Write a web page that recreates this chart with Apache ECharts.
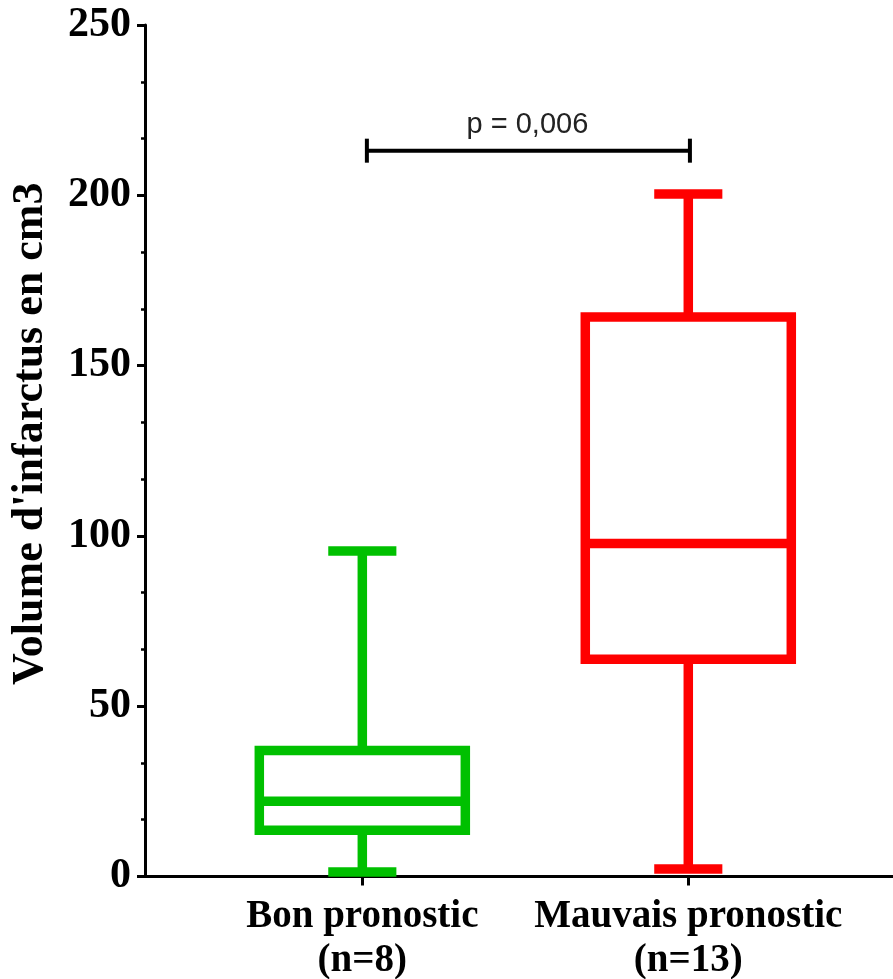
<!DOCTYPE html>
<html>
<head>
<meta charset="utf-8">
<script src="https://cdn.jsdelivr.net/npm/echarts@6/dist/echarts.min.js"></script>
<style>html,body{margin:0;padding:0;background:#fff}#c{width:893px;height:979px}</style>
</head>
<body>
<div id="c"></div>
<script>
// ---- data ----
var categories = ['Bon pronostic\n(n=8)', 'Mauvais pronostic\n(n=13)'];
var groupPos = [1, 2];
// [min, Q1, median, Q3, max]
var bonStats = [1.3, 13.6, 22.1, 37.0, 95.6];
var mauvaisStats = [2.2, 63.8, 97.8, 164.3, 200.4];
var groupColors = ['#00C000', '#FF0000'];
var yTicks = [0, 50, 100, 150, 200, 250];
var pLabel = 'p = 0,006';
var bracketY = 213.1;
var bracketX = [1.014, 2.005];

var allStats = [bonStats, mauvaisStats];
var boxData = allStats.map(function (s, i) { return [groupPos[i]].concat(s).concat([i]); });

var BOX_W = 0.632, CAP_W = 0.209, LW = 9.5;

var chart = echarts.init(document.getElementById('c'));
var serif = "'Liberation Serif','Times New Roman',serif";

chart.setOption({
  animation: false,
  backgroundColor: '#fff',
  grid: { left: 145, right: 0, top: 25, bottom: 102.5, containLabel: false, outerBoundsMode: 'none' },
  xAxis: {
    type: 'value', min: 1 / 3, max: 2.628,
    axisLine: { show: true, onZero: false, lineStyle: { color: '#000', width: 3 } },
    axisTick: { show: true, customValues: groupPos, length: 9, lineStyle: { color: '#000', width: 3 } },
    axisLabel: {
      customValues: groupPos, margin: 18, color: '#000',
      fontFamily: serif, fontWeight: 'bold', fontSize: 39, lineHeight: 44,
      formatter: function (v) { return categories[Math.round(v) - 1]; }
    },
    splitLine: { show: false }
  },
  yAxis: {
    type: 'value', min: yTicks[0], max: yTicks[yTicks.length - 1], interval: 50,
    name: "Volume d'infarctus en cm3", nameLocation: 'middle', nameGap: 92,
    nameTextStyle: { fontFamily: serif, fontWeight: 'bold', fontSize: 44, color: '#000', padding: [0, 0, 0, 34] },
    axisLine: { show: true, lineStyle: { color: '#000', width: 3 } },
    axisTick: { show: true, length: 8, lineStyle: { color: '#000', width: 3 } },
    minorTick: { show: true, splitNumber: 3, length: 4, lineStyle: { color: '#000', width: 2.5 } },
    axisLabel: { margin: 14, color: '#000', fontFamily: serif, fontWeight: 'bold', fontSize: 42 },
    splitLine: { show: false }, minorSplitLine: { show: false }
  },
  series: [
    {
      type: 'custom', clip: false,
      data: boxData,
      renderItem: function (params, api) {
        var x = api.value(0);
        var mn = api.value(1), q1 = api.value(2), md = api.value(3), q3 = api.value(4), mx = api.value(5);
        var col = groupColors[api.value(6)];
        var hw = api.size([BOX_W, 0])[0] / 2;
        var cw = api.size([CAP_W, 0])[0] / 2;
        var pMin = api.coord([x, mn]), pQ1 = api.coord([x, q1]), pMd = api.coord([x, md]);
        var pQ3 = api.coord([x, q3]), pMx = api.coord([x, mx]);
        var cx = pMin[0];
        var st = { stroke: col, lineWidth: LW, fill: null, lineCap: 'butt', lineJoin: 'miter' };
        return {
          type: 'group',
          children: [
            { type: 'line', shape: { x1: cx, y1: pQ3[1], x2: cx, y2: pMx[1] }, style: st },
            { type: 'line', shape: { x1: cx, y1: pQ1[1], x2: cx, y2: pMin[1] }, style: st },
            { type: 'line', shape: { x1: cx - cw, y1: pMx[1], x2: cx + cw, y2: pMx[1] }, style: st },
            { type: 'line', shape: { x1: cx - cw, y1: pMin[1], x2: cx + cw, y2: pMin[1] }, style: st },
            { type: 'rect', shape: { x: cx - hw, y: pQ3[1], width: 2 * hw, height: pQ1[1] - pQ3[1] }, style: st },
            { type: 'line', shape: { x1: cx - hw, y1: pMd[1], x2: cx + hw, y2: pMd[1] }, style: st }
          ]
        };
      }
    },
    {
      type: 'custom', clip: false,
      data: [[bracketX[0], bracketX[1], bracketY]],
      renderItem: function (params, api) {
        var a = api.coord([api.value(0), api.value(2)]);
        var b = api.coord([api.value(1), api.value(2)]);
        var st = { stroke: '#000', lineWidth: 4, lineCap: 'butt' };
        return {
          type: 'group',
          children: [
            { type: 'line', shape: { x1: a[0], y1: a[1], x2: b[0], y2: b[1] }, style: st },
            { type: 'line', shape: { x1: a[0], y1: a[1] - 12, x2: a[0], y2: a[1] + 12 }, style: st },
            { type: 'line', shape: { x1: b[0], y1: b[1] - 12, x2: b[0], y2: b[1] + 12 }, style: st },
            { type: 'text', x: (a[0] + b[0]) / 2 - 1, y: a[1] - 26,
              style: { text: pLabel, fill: '#222', font: "29px 'Liberation Sans', Arial, sans-serif",
                       align: 'center', verticalAlign: 'middle' } }
          ]
        };
      }
    }
  ]
});
</script>
</body>
</html>
